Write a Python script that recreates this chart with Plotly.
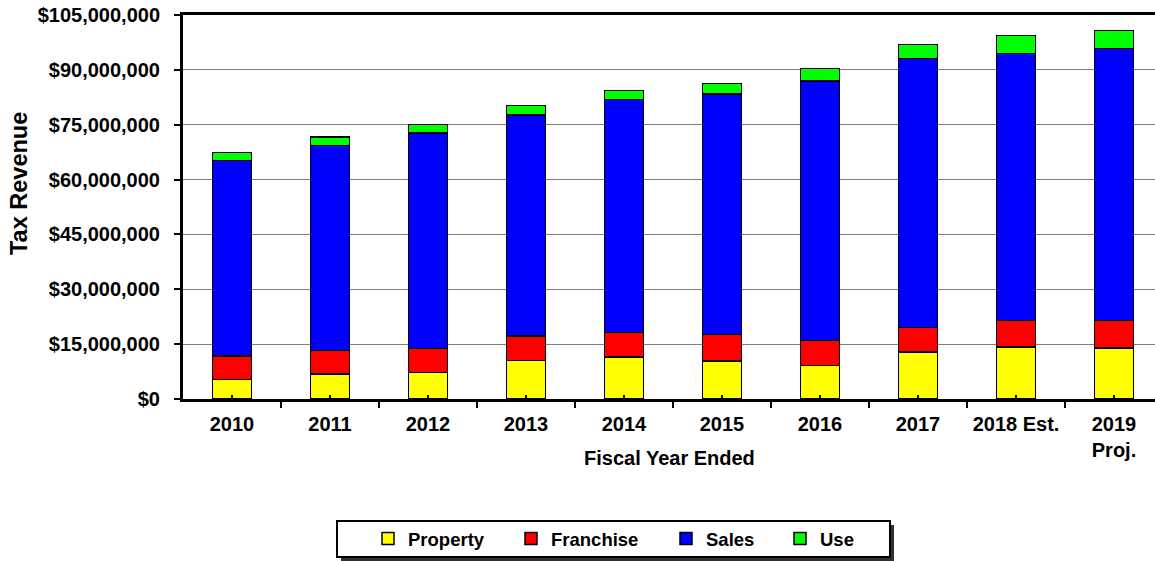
import plotly.graph_objects as go

categories = ["2010", "2011", "2012", "2013", "2014", "2015", "2016", "2017", "2018 Est.", "2019<br>Proj."]
property_tax = [5.4e6, 6.9e6, 7.2e6, 10.5e6, 11.5e6, 10.4e6, 9.1e6, 12.8e6, 14.2e6, 13.9e6]
franchise_tax = [6.4e6, 6.3e6, 6.6e6, 6.7e6, 6.7e6, 7.2e6, 6.85e6, 6.8e6, 7.3e6, 7.6e6]
sales_tax = [53.4e6, 56.1e6, 58.9e6, 60.5e6, 63.7e6, 65.8e6, 71.0e6, 73.5e6, 73.0e6, 74.3e6]
use_tax = [2.2e6, 2.3e6, 2.4e6, 2.5e6, 2.45e6, 2.9e6, 3.4e6, 3.9e6, 4.9e6, 5.0e6]

series = [
    ("Property", property_tax, "#FFFF00", "legend"),
    ("Franchise", franchise_tax, "#FF0000", "legend2"),
    ("Sales", sales_tax, "#0000FF", "legend3"),
    ("Use", use_tax, "#00FF00", "legend4"),
]

FONT = "Arial, Liberation Sans, sans-serif"
x = list(range(len(categories)))

fig = go.Figure()
for name, vals, color, leg in series:
    fig.add_trace(go.Bar(
        x=x, y=vals, name=name, width=0.4, showlegend=True,
        marker=dict(color=color, line=dict(color="black", width=1.5)),
        legend=leg,
    ))

# plot area: x from 183 to 1155 px, y from 15 to 399 px
L, R, T, B = 183, 1155, 15, 399
W, H = R - L, B - T

def px_x(p):
    return (p - L) / W

def px_y(p):
    return (B - p) / H

leg_common = dict(orientation="h", xanchor="left", yanchor="middle", y=px_y(539),
                  bgcolor="rgba(0,0,0,0)", borderwidth=0, itemwidth=30,
                  font=dict(family=FONT, size=18.5, color="black", weight="bold"))

fig.update_layout(
    width=1155, height=561,
    margin=dict(l=L, r=1155 - R, t=T, b=561 - B, pad=0),
    paper_bgcolor="white", plot_bgcolor="white",
    barmode="stack",
    showlegend=True,
    font=dict(family=FONT, color="black"),
    legend=dict(x=px_x(368), **leg_common),
    legend2=dict(x=px_x(511), **leg_common),
    legend3=dict(x=px_x(666), **leg_common),
    legend4=dict(x=px_x(780), **leg_common),
    xaxis=dict(
        range=[-0.5, -0.5 + W / 98.0],
        tickmode="array", tickvals=x, ticktext=categories,
        ticks="inside", ticklen=4, tickwidth=2, tickcolor="black",
        minor=dict(ticks="outside", ticklen=6, tickwidth=2, tickcolor="black",
                   tickmode="linear", tick0=-0.5, dtick=1, showgrid=False),
        showline=True, linewidth=3, linecolor="black", mirror=True,
        showgrid=False, zeroline=False,
        tickfont=dict(family=FONT, size=20, color="black", weight="bold"),
        ticklabelstandoff=5,
    ),
    yaxis=dict(
        range=[0, 105e6], tickmode="linear", tick0=0, dtick=15e6,
        tickformat="$,.0f",
        ticks="outside", ticklen=6, tickwidth=2, tickcolor="black",
        showline=True, linewidth=3, linecolor="black",
        showgrid=True, gridcolor="#808080", gridwidth=1, zeroline=False,
        tickfont=dict(family=FONT, size=20, color="black", weight="bold"),
        ticklabelstandoff=10,
    ),
    annotations=[
        dict(text="Fiscal Year Ended", xref="paper", yref="paper",
             x=0.5, y=px_y(458), xanchor="center", yanchor="middle", showarrow=False,
             font=dict(family=FONT, size=20, color="black", weight="bold")),
        dict(text="Tax Revenue", xref="paper", yref="paper", textangle=-90,
             x=px_x(19), y=px_y(184), xanchor="center", yanchor="middle", showarrow=False,
             font=dict(family=FONT, size=23.5, color="black", weight="bold")),
    ],
    shapes=[
        dict(type="rect", xref="paper", yref="paper",
             x0=px_x(341), x1=px_x(894), y0=px_y(561), y1=px_y(525),
             fillcolor="#303030", line=dict(width=0)),
        dict(type="rect", xref="paper", yref="paper",
             x0=px_x(337), x1=px_x(890), y0=px_y(557), y1=px_y(521),
             fillcolor="white", line=dict(color="black", width=2)),
    ],
)

fig.write_html("out.html", config={"displayModeBar": False},
               post_script="document.body.style.margin='0';")
